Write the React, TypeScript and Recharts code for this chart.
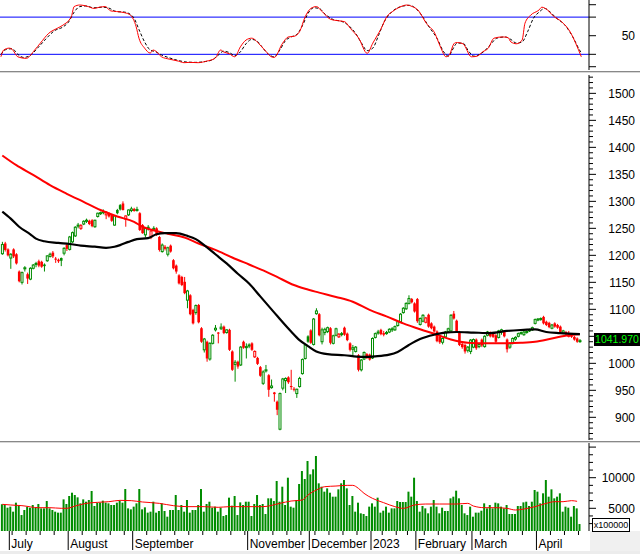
import React from 'react';
import { ComposedChart, Bar, Line, XAxis, YAxis, ReferenceLine } from 'recharts';

const FONT = "'Liberation Sans', Arial, sans-serif";
const AXIS_X = 589;
const LABEL_X = 635;
const HALF_STEP = 1.4;
const X_PAD = { left: 0.9, right: 7.7 };
const GREEN = '#008c00';
const RED = '#ff0000';

const openP = [
  1203,1222,1211,1195,1211,1202,1170,1150,1175,1165,
  1156,1176,1184,1189,1188,1183,1190,1198,1205,1194,
  1192,1195,1204,1219,1211,1225,1236,1254,1250,1258,
  1263,1264,1265,1253,1272,1277,1279,1275,1278,1275,
  1256,1284,1293,1296,1267,1275,1283,1286,1283,1278,
  1256,1238,1250,1234,1248,1250,1234,1207,1216,1202,
  1218,1191,1181,1163,1160,1151,1117,1126,1099,1094,
  1108,1065,1025,1040,1008,1037,1062,1057,1064,1068,
  1057,1062,1022,998,1003,997,1040,1029,1032,1037,
  1012,1010,993,963,986,978,955,946,929,878,
  954,968,974,958,953,944,957,981,1009,1050,
  1061,1035,1092,1091,1040,1057,1059,1065,1037,1052,
  1049,1054,1066,1055,1037,1026,1022,1015,988,1008,
  1017,1016,1010,1048,1056,1062,1056,1055,1058,1062,
  1062,1070,1077,1094,1101,1111,1119,1111,1119,1072,
  1078,1076,1090,1074,1068,1059,1049,1039,1049,1059,
  1060,1092,1079,1058,1036,1034,1024,1022,1030,1044,
  1031,1044,1031,1052,1057,1056,1052,1048,1058,1058,
  1044,1030,1037,1045,1050,1055,1053,1057,1060,1062,
  1074,1080,1081,1086,1077,1075,1065,1074,1071,1068,
  1056,1058,1050,1052,1049,1046,1041,
];
const highP = [
  1225,1225,1213,1204,1213,1204,1172,1170,1180,1168,
  1178,1184,1188,1192,1190,1185,1200,1205,1208,1197,
  1194,1196,1215,1221,1236,1244,1254,1260,1258,1265,
  1268,1266,1267,1266,1279,1281,1285,1282,1280,1276,
  1274,1286,1295,1300,1274,1285,1290,1288,1290,1280,
  1258,1252,1256,1248,1254,1252,1236,1222,1219,1216,
  1220,1193,1183,1165,1162,1160,1136,1128,1101,1109,
  1110,1067,1047,1042,1039,1054,1071,1058,1074,1070,
  1063,1064,1024,1006,1005,1032,1042,1037,1037,1039,
  1024,1012,995,987,997,980,970,947,931,946,
  973,974,976,988,956,953,975,1009,1036,1052,
  1063,1084,1102,1093,1066,1066,1068,1067,1053,1066,
  1056,1058,1068,1057,1039,1034,1032,1017,1008,1022,
  1019,1018,1048,1057,1062,1064,1060,1060,1065,1067,
  1070,1079,1093,1104,1113,1126,1121,1113,1121,1085,
  1091,1086,1092,1076,1070,1061,1051,1048,1060,1066,
  1091,1097,1081,1060,1038,1036,1032,1045,1046,1046,
  1038,1046,1052,1060,1059,1058,1054,1062,1064,1061,
  1046,1039,1048,1050,1057,1059,1060,1061,1064,1068,
  1083,1084,1085,1088,1079,1077,1073,1076,1073,1070,
  1062,1060,1060,1054,1051,1048,1045,
];
const lowP = [
  1201,1207,1198,1175,1195,1183,1150,1146,1170,1147,
  1154,1174,1178,1178,1177,1170,1188,1196,1195,1186,
  1186,1180,1200,1208,1209,1223,1234,1250,1247,1256,
  1260,1256,1252,1251,1270,1275,1276,1267,1270,1262,
  1255,1276,1283,1283,1253,1273,1280,1281,1281,1245,
  1240,1233,1246,1230,1245,1236,1207,1205,1209,1198,
  1205,1174,1166,1146,1143,1128,1102,1089,1072,1090,
  1074,1038,1020,1003,1005,1035,1059,1037,1062,1054,
  1055,1023,986,966,990,995,1027,1009,1028,1023,
  1010,997,975,960,983,938,953,929,904,876,
  950,945,962,951,948,936,955,979,1007,1038,
  1036,1033,1090,1050,1035,1052,1056,1035,1035,1050,
  1047,1050,1051,1041,1022,1015,1020,985,985,1006,
  1008,1005,1008,1046,1053,1052,1050,1053,1056,1058,
  1060,1068,1075,1092,1099,1109,1111,1094,1075,1070,
  1076,1074,1066,1063,1057,1039,1036,1035,1047,1057,
  1058,1081,1057,1032,1027,1018,1020,1017,1028,1025,
  1028,1030,1029,1050,1048,1047,1038,1046,1053,1048,
  1020,1027,1035,1042,1048,1053,1051,1055,1058,1060,
  1072,1078,1079,1072,1069,1065,1063,1066,1064,1056,
  1054,1052,1048,1047,1042,1038,1038,
];
const closeP = [
  1220,1210,1200,1202,1198,1185,1152,1168,1177,1157,
  1176,1182,1185,1181,1179,1180,1199,1202,1198,1192,
  1189,1190,1213,1212,1234,1242,1252,1256,1255,1263,
  1265,1258,1254,1265,1278,1279,1281,1280,1272,1264,
  1273,1278,1285,1284,1273,1284,1286,1282,1285,1247,
  1241,1250,1252,1245,1250,1238,1210,1219,1212,1214,
  1207,1176,1170,1148,1145,1130,1134,1091,1074,1107,
  1076,1040,1045,1009,1037,1052,1065,1055,1067,1056,
  1062,1025,988,1002,994,1030,1029,1031,1034,1025,
  1022,999,977,984,988,951,958,943,914,944,
  971,972,965,956,951,952,972,1007,1034,1040,
  1038,1082,1097,1052,1062,1063,1066,1038,1051,1064,
  1054,1055,1053,1043,1025,1029,1030,988,1006,1020,
  1010,1007,1046,1055,1058,1054,1053,1057,1063,1064,
  1068,1077,1091,1102,1111,1120,1113,1096,1078,1083,
  1089,1084,1068,1065,1059,1041,1039,1046,1058,1064,
  1089,1083,1059,1034,1030,1022,1030,1043,1044,1028,
  1035,1033,1050,1058,1050,1049,1040,1060,1062,1050,
  1026,1037,1046,1048,1055,1057,1058,1059,1062,1066,
  1081,1082,1083,1074,1071,1067,1071,1068,1066,1058,
  1060,1054,1052,1049,1044,1040,1041.97,
];
const volume = [
  5650,5540,5100,5270,4450,5920,5430,3900,4720,5270,
  5100,5540,5100,5700,4990,4990,6190,4990,4720,4450,
  4290,4290,6460,5700,7010,7550,7170,6790,5810,6460,
  6080,6360,7830,5380,5920,5920,6250,5920,5810,5540,
  5540,5920,6250,5920,8150,4990,4830,5270,5810,8150,
  4830,5160,4290,4450,6080,4290,4560,5810,4560,3630,
  4720,4720,7170,4720,5540,4450,6360,4290,4720,4720,
  5540,8150,4450,5700,6080,5100,5270,4450,5100,3740,
  3900,6740,5430,7010,3900,5970,5540,6080,6080,3740,
  5700,7170,5540,5700,4070,6630,6630,6190,9460,6080,
  8530,5540,10000,5270,5100,6360,8970,11090,9790,12730,
  10550,11370,13550,9080,8530,7720,8260,7550,6900,6900,
  8100,9080,9620,8260,5540,7010,4450,5920,4180,4070,
  3740,5270,5810,5270,6740,4290,4610,5270,4290,4990,
  4990,6190,6030,6030,6030,7720,6900,10000,6190,4450,
  5380,4990,4180,5270,6360,5270,4180,5100,4560,4560,
  6630,6900,7880,6630,5540,4180,3900,5270,3630,4290,
  4290,4610,5810,4990,5540,4990,5920,5810,5270,4990,
  5540,4070,4070,4070,5380,5380,5970,6080,5380,6080,
  7990,7720,5810,7450,9620,6900,8100,6630,6900,7450,
  4450,5270,5100,3630,5380,4990,2430,
];

const maBlack: [number, number][] = [
  [0,1281],[3,1268],[6,1253],[10,1239],[12,1231],[15,1226],[20,1223],[24,1221],[28,1218],[33,1216],
  [37,1214],[40,1216],[42,1219],[45,1225],[48,1230],[52,1232],[55,1239],[58,1241],[62,1241],[66,1236],
  [69,1230],[72,1219],[76,1202],[80,1185],[84,1166],[88,1148],[92,1124],[98,1088],[103,1059],[106,1043],
  [109,1032],[112,1022],[116,1017],[122,1015],[128,1012],[133,1013],[138,1016],[141,1021],[145,1034],[149,1045],
  [154,1053],[158,1057],[162,1058],[168,1057],[174,1056],[180,1060],[186,1062],[190,1063],[194,1058],[199,1056],
  [206,1054],
];
const maRed: [number, number][] = [
  [0,1385],[5,1367],[11,1349],[17,1330],[23,1314],[29,1299],[35,1284],[41,1272],[47,1262],[50,1253],
  [55,1245],[59,1240],[65,1233],[70,1222],[76,1210],[82,1196],[88,1183],[94,1170],[98,1160],[104,1145],
  [108,1138],[113,1131],[119,1123],[125,1114],[131,1099],[137,1087],[143,1074],[149,1063],[155,1053],[160,1044],
  [166,1038],[172,1037],[179,1037],[185,1038],[190,1040],[196,1046],[202,1052],[206,1054],
];
const volMA: [number, number][] = [
  [0,5650],[3,5540],[7,5430],[13,5100],[17,5100],[21,5000],[23,5000],[26,5375],[30,5810],[34,5975],
  [38,6080],[42,6300],[46,6250],[50,6030],[56,5810],[61,5430],[66,5270],[72,5270],[77,5160],[81,5270],
  [86,5270],[93,5270],[99,5810],[103,6190],[107,6350],[109,7170],[112,7990],[115,8530],[119,8640],[123,8750],
  [125,8750],[127,8260],[129,7450],[132,6630],[136,5920],[140,5270],[143,4990],[147,5540],[151,5700],[156,5700],
  [162,5700],[166,5810],[168,5375],[172,5100],[176,5100],[180,4990],[183,4720],[186,4880],[190,5270],[194,5810],
  [197,6080],[200,6080],[203,6250],[205,6140],
];
const stochK: [number, number][] = [
  [0,16],[1,27],[3,30],[4,28],[6,16],[9,13.5],[12,27],[14,38],[17,54],[20,62],[22,67],[25,81],[26,97],[28,99.5],
  [31,97],[33,94],[35,96],[37,97],[39,90],[41,89],[44,87],[46,83],[48,64.5],[49,46],[51,30],[53,22],[54,27],[55,25],
  [57,16],[60,12],[63,9],[65,6.5],[67,7],[70,6.5],[73,9],[76,13.5],[78,27],[79,24],[81,21],[83,16],[85,32],[87,43],
  [89,46],[92,35],[94,25],[96,16],[97,15],[100,38],[102,48],[104,49],[106,56.5],[108,80.6],[110,94],[112,97],[114,89],
  [117,76.5],[120,74],[122,72.6],[124,62],[127,46],[130,21.6],[132,38],[135,62],[137,81],[139,89],[142,97],[144,99.5],
  [146,97],[148,91.5],[151,70],[154,54],[156,32],[158,16],[159,18],[161,38],[162,39],[164,37],[167,16],[169,17],
  [171,24],[173,30],[175,46],[178,48],[180,47],[181,40],[183,37],[185,43],[186,70],[188,83],[191,91.5],[192,96],
  [194,91.5],[196,82],[199,72.6],[202,56.5],[204,38],[206,16],
];
const stochD: [number, number][] = [
  [0,20],[2,28],[4,29],[6,20],[8,15],[10,17],[13,30],[16,45],[19,58],[22,64],[24,72],[26,88],[28,97],[30,98],
  [33,95],[36,96],[38,95],[41,89],[44,88],[47,80],[49,60],[51,40],[53,27],[55,24],[57,19],[60,14],[63,10],[66,7.5],
  [69,7],[72,8],[75,11],[77,18],[79,25],[81,23],[83,18],[85,24],[87,37],[89,44],[91,41],[93,30],[95,20],[97,16],
  [99,27],[101,42],[103,48],[105,52],[107,66],[109,86],[111,95],[113,94],[115,85],[118,76],[121,73],[123,68],
  [126,53],[128,38],[130,26],[132,30],[134,50],[136,72],[138,85],[140,93],[143,98],[145,99],[147,95],[149,85],
  [152,64],[155,44],[157,25],[159,17],[160,25],[162,38],[164,38],[166,25],[168,17],[170,20],[172,27],[174,37],
  [176,46],[179,48],[181,44],[183,38],[185,40],[187,57],[189,78],[191,88],[193,94],[195,88],[197,79],[200,68],
  [203,48],[205,30],[206,22],
];

const monthStarts: [number, string][] = [
  [3,'July'],[24,'August'],[47,'September'],[88,'November'],[110,'December'],
  [132,'2023'],[148,'February'],[168,'March'],[191,'April'],
];
const weekStarts = [
  4,9,14,19,24,29,34,39,44,52,57,62,67,72,77,82,87,92,97,102,107,112,117,122,127,
  136,141,145,151,156,161,166,171,176,181,186,196,201,206,
];
// 1050 is hidden behind the last-price box in the reference
const priceLabels = [900,950,1000,1100,1150,1200,1250,1300,1350,1400,1450,1500];
const priceTicks: number[] = [];
for (let t = 860; t <= 1530; t += 10) priceTicks.push(t);
const volLabels = [5000, 10000];
const volTicks = [2500,3750,5000,6250,7500,8750,10000,11250,12500,13750,15000];
const oscTicks = [0,20,50,80,100];
const oscLabels = [50];
const lastPrice = '1041.970';

const rows: any[] = openP.map((o, i) => ({
  i,
  o,
  h: highP[i],
  l: lowP[i],
  c: closeP[i],
  range: [lowP[i], highP[i]],
  up: i === 0 ? closeP[0] >= openP[0] : closeP[i] >= closeP[i - 1],
  v: volume[i],
}));
const attach = (key: string, pts: [number, number][]) => {
  pts.forEach(([i, v]) => { rows[i][key] = v; });
};
attach('maB', maBlack);
attach('maR', maRed);
attach('vma', volMA);
attach('k', stochK);
attach('d', stochD);

const monthMap = new Map<number, string>(monthStarts);
const axisTicks = Array.from(new Set([...weekStarts, ...monthStarts.map((m) => m[0])])).sort((a, b) => a - b);

const Candle = (props: any) => {
  const { x, y, width, height, payload } = props;
  if (x == null || y == null || !payload) return null;
  const { o, h, l, c, up } = payload;
  const cx = x + width / 2;
  const span = h - l || 1;
  const py = (p: number) => y + ((h - p) / span) * height;
  const color = up ? GREEN : RED;
  const top = py(Math.max(o, c));
  const bot = py(Math.min(o, c));
  const hollow = c > o;
  const bh = Math.max(bot - top, 1);
  return (
    <g>
      <line x1={cx} x2={cx} y1={y} y2={y + height} stroke={color} strokeWidth={1} />
      {hollow ? (
        <rect x={cx - 1} y={top} width={2} height={bh} fill="#fff" stroke={color} strokeWidth={1} />
      ) : (
        <rect x={cx - 1.3} y={top} width={2.6} height={bh} fill={color} />
      )}
    </g>
  );
};

const makeYTick = (labels: number[], isMajor: (v: number) => boolean) => (props: any) => {
  const { y, payload } = props;
  const v = payload.value;
  const major = isMajor(v);
  return (
    <g>
      <line x1={AXIS_X} x2={AXIS_X + (major ? 7 : 4)} y1={y} y2={y} stroke="#000" strokeWidth={1} />
      {labels.includes(v) && (
        <text x={LABEL_X} y={y + 4.5} textAnchor="end" fontSize={12} fontFamily={FONT} fill="#000">
          {v}
        </text>
      )}
    </g>
  );
};
const PriceTick = makeYTick(priceLabels, (v) => v % 50 === 0);
const VolTick = makeYTick(volLabels, (v) => v % 5000 === 0);
const OscTick = makeYTick(oscLabels, () => true);

const XTick = (props: any) => {
  const { x, payload } = props;
  const lx = x - HALF_STEP;
  const name = monthMap.get(payload.value);
  if (name !== undefined) {
    return (
      <g>
        <line x1={lx} x2={lx} y1={88} y2={107} stroke="#000" strokeWidth={1} />
        <text x={lx + 2} y={105} fontSize={12} fontFamily={FONT} fill="#000">{name}</text>
      </g>
    );
  }
  return <line x1={lx} x2={lx} y1={88} y2={92} stroke="#000" strokeWidth={1} />;
};

const margin0 = { top: 0, right: 0, bottom: 0, left: 0 };

export default function App() {
  return (
    <div style={{ position: 'absolute', left: 0, top: 0, width: 640, height: 554, background: '#fff', fontFamily: FONT, overflow: 'hidden' }}>
      {/* Oscillator panel */}
      <div style={{ position: 'absolute', left: 0, top: 0 }}>
        <ComposedChart width={640} height={70} data={rows} margin={margin0}>
          <XAxis dataKey="i" hide padding={X_PAD} />
          <YAxis orientation="right" width={51} domain={[-5.3, 107.6]} allowDataOverflow ticks={oscTicks} interval={0}
            tick={OscTick} tickLine={false} axisLine={{ stroke: '#000' }} />
          <ReferenceLine y={80} stroke="#0000ff" strokeWidth={1} />
          <ReferenceLine y={20} stroke="#0000ff" strokeWidth={1} />
          <Line dataKey="d" type="monotone" stroke="#000" strokeWidth={1} strokeDasharray="3 2" dot={false} activeDot={false} connectNulls isAnimationActive={false} />
          <Line dataKey="k" type="monotone" stroke={RED} strokeWidth={1} dot={false} activeDot={false} connectNulls isAnimationActive={false} />
        </ComposedChart>
      </div>

      {/* Price panel */}
      <div style={{ position: 'absolute', left: 0, top: 75 }}>
        <ComposedChart width={640} height={365} data={rows} margin={margin0} barCategoryGap={0}>
          <XAxis dataKey="i" hide padding={X_PAD} />
          <YAxis orientation="right" width={51} domain={[858, 1534]} allowDataOverflow ticks={priceTicks} interval={0}
            tick={PriceTick} tickLine={false} axisLine={{ stroke: '#000' }} />
          <Bar dataKey="range" shape={Candle} isAnimationActive={false} />
          <Line dataKey="maR" type="monotone" stroke={RED} strokeWidth={2} dot={false} activeDot={false} connectNulls isAnimationActive={false} />
          <Line dataKey="maB" type="monotone" stroke="#000" strokeWidth={2.2} dot={false} activeDot={false} connectNulls isAnimationActive={false} />
        </ComposedChart>
      </div>

      {/* Volume panel */}
      <div style={{ position: 'absolute', left: 0, top: 443 }}>
        <ComposedChart width={640} height={111} data={rows} margin={margin0}>
          <XAxis dataKey="i" padding={X_PAD} height={23} ticks={axisTicks} interval={0} tick={XTick}
            tickLine={false} axisLine={false} />
          <YAxis orientation="right" width={51} domain={[1291, 15670]} allowDataOverflow ticks={volTicks} interval={0}
            tick={VolTick} tickLine={false} axisLine={{ stroke: '#000' }} />
          <Bar dataKey="v" fill={GREEN} barSize={2} isAnimationActive={false} />
          <Line dataKey="vma" type="monotone" stroke={RED} strokeWidth={1} dot={false} activeDot={false} connectNulls isAnimationActive={false} />
        </ComposedChart>
      </div>

      {/* panel separators */}
      <div style={{ position: 'absolute', left: 0, top: 71, width: 640, height: 1, background: '#888' }} />
      <div style={{ position: 'absolute', left: 0, top: 72, width: 640, height: 1, background: '#d8d8d8' }} />
      <div style={{ position: 'absolute', left: 0, top: 441, width: 640, height: 1, background: '#888' }} />
      <div style={{ position: 'absolute', left: 0, top: 442, width: 640, height: 1, background: '#d8d8d8' }} />

      {/* bottom grey areas */}
      <div style={{ position: 'absolute', left: 590, top: 531, width: 50, height: 23, background: '#f0f0f0' }} />
      <div style={{ position: 'absolute', left: 0, top: 551, width: 640, height: 3, background: '#ececec' }} />

      {/* last price box */}
      <div style={{ position: 'absolute', left: 594, top: 333, width: 46, height: 13, background: '#000', color: '#00ff00',
        fontSize: 10.5, lineHeight: '13px', textAlign: 'center', fontFamily: FONT }}>{lastPrice}</div>

      {/* volume unit box */}
      <div style={{ position: 'absolute', left: 592, top: 518, width: 36, height: 12, border: '1px solid #000', background: '#fff',
        fontSize: 9, lineHeight: '12px', textAlign: 'center', fontFamily: FONT, color: '#000' }}>x100000</div>
    </div>
  );
}
